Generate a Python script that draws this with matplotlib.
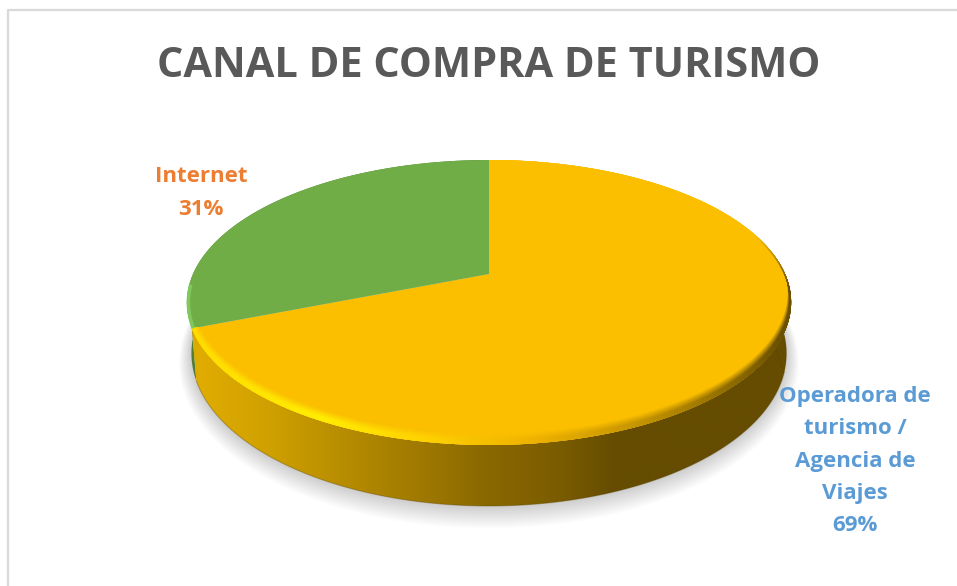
import numpy as np
import matplotlib
matplotlib.use("Agg")
import matplotlib.pyplot as plt
from matplotlib.collections import LineCollection
from matplotlib.colors import to_rgb
from matplotlib.patches import Polygon

title = "CANAL DE COMPRA DE TURISMO"
labels = ["Operadora de\nturismo /\nAgencia de\nViajes\n69%", "Internet\n31%"]
shares = [69, 31]
colors = ["#FBBF00", "#70AD47"]

plt.rcParams["font.family"] = ["Open Sans", "DejaVu Sans"]

# pie geometry in pixels
cx, cy = 489, 274
w, h, k = 296, 136.8, 0.2
depth = 61


def face(a):
    u, v = np.sin(a), -np.cos(a)
    p = 1 - k * v
    return cx + w * u / p, cy + h * v / p


def lower(a, grow=0.0, drop=0.0):
    u, v = np.sin(a), -np.cos(a)
    p = 1 - k * v
    return (cx + (0.985 * w + grow) * u / p,
            cy + (h + grow) * v / p + depth * 0.8 / p + drop)


fig = plt.figure(figsize=(9.57, 5.86), dpi=100)
ax = fig.add_axes([0, 0, 1, 1])

cuts = np.cumsum([0] + shares) / sum(shares) * 2 * np.pi

# frame
ax.plot([8, 8, 957], [586, 10, 10], color="#D9D9D9", lw=1.6, zorder=1)

# soft shadow
ring = np.linspace(0, 2 * np.pi, 360)
for i in range(12, 0, -1):
    x, y = lower(ring, grow=i * 1.0, drop=i * 0.6)
    ax.fill(x, y, color="black", alpha=0.014, lw=0, zorder=2)

# side of the internet slice
a = np.linspace(cuts[1], cuts[2], 200)
x1, y1 = face(a)
x2, y2 = lower(a)
ax.fill(np.r_[x1, x2[::-1]], np.r_[y1, y2[::-1]], color="#4F7D32", lw=0, zorder=3)

# side of the big slice, shaded from left to right
a = np.linspace(cuts[0], cuts[1], 400)
x1, y1 = face(a)
x2, y2 = lower(a)
side = Polygon(np.c_[np.r_[x1, x2[::-1]], np.r_[y1, y2[::-1]]], closed=True,
               transform=ax.transData, fc="none", lw=0)
ax.add_patch(side)
stop_x = [190, 200, 270, 353, 437, 487, 560, 615, 800]
stop_c = ["#D9A800", "#E0AC00", "#CFA000", "#B48A00", "#9A7500", "#8A6800", "#7A5C00", "#654C00", "#654C00"]
grid = np.linspace(185, 800, 616)
stop_rgb = np.array([to_rgb(c) for c in stop_c])
shade = np.stack([np.interp(grid, stop_x, stop_rgb[:, i]) for i in range(3)], axis=1)[None, :, :]
im = ax.imshow(shade, extent=[185, 800, 520, 280], aspect="auto", zorder=4)
im.set_clip_path(side)

# thin dark edge at the bottom of the side
a = np.linspace(cuts[0], cuts[1], 400)
a = a[(np.sin(a) < 0.95)]
ax.plot(*lower(a), color="#5A4300", lw=0.8, alpha=0.35, zorder=5)

# top faces
for i, c in enumerate(colors):
    a = np.linspace(cuts[i], cuts[i + 1], 300)
    x, y = face(a)
    patch = ax.fill(np.r_[cx, x], np.r_[cy, y], color=c, lw=0, zorder=6)[0]
    if i == 0:
        big_face = patch


def rim_colour(a):
    u, v = np.sin(a), -np.cos(a)
    stops_u = [-1.0, -0.75, -0.47, -0.2, 0.1, 0.4, 0.7, 0.9, 1.0]
    stops = ["#FFD800", "#FFE000", "#FFEC00", "#FFD400", "#F0B400", "#C89600", "#8F6C00", "#6B5000", "#6B5000"]
    rgb = np.array([to_rgb(c) for c in stops])
    col = np.stack([np.interp(u, stops_u, rgb[:, j]) for j in range(3)], axis=1)
    base = np.array(to_rgb(colors[0]))
    fade = np.clip((v + 0.3) / 0.4, 0, 1)[:, None]
    return base + (col - base) * fade


# bevel along the rim of the big slice, moved up from the edge
a = np.linspace(cuts[0], cuts[1], 500)
mid = (a[:-1] + a[1:]) / 2
rim = rim_colour(mid)
base = np.array(to_rgb(colors[0]))
x, y = face(a)
for s in np.linspace(1, 0, 14):
    t = min(1.0, (1 - s) * 1.5)
    xs = cx + (x - cx) * (1 - 0.008 * s)
    ys = y - 11 * s
    segs = np.stack([np.c_[xs[:-1], ys[:-1]], np.c_[xs[1:], ys[1:]]], axis=1)
    lines = LineCollection(segs, colors=base + (rim - base) * t, lw=1.6,
                           capstyle="round", zorder=7)
    ax.add_collection(lines)
    lines.set_clip_path(big_face)

# lighter rim on the internet slice
a = np.linspace(cuts[1], cuts[1] + 0.3, 80)
x, y = face(a)
ax.plot(x + 1.5, y, color="#86CF62", lw=2.6, alpha=0.8, solid_capstyle="butt", zorder=7)

ax.text(489, 77, title, ha="center", va="baseline", fontsize=29.9, fontweight="bold", color="#595959", zorder=8)
ax.text(201, 193, labels[1], ha="center", va="center", fontsize=16, fontweight="bold",
        color="#ED7D31", linespacing=1.7, zorder=8)
ax.text(855, 461, labels[0], ha="center", va="center", fontsize=16, fontweight="bold",
        color="#5B9BD5", linespacing=1.7, zorder=8)

ax.set_xlim(0, 957)
ax.set_ylim(586, 0)
ax.axis("off")
fig.savefig("out.png", dpi=100)
